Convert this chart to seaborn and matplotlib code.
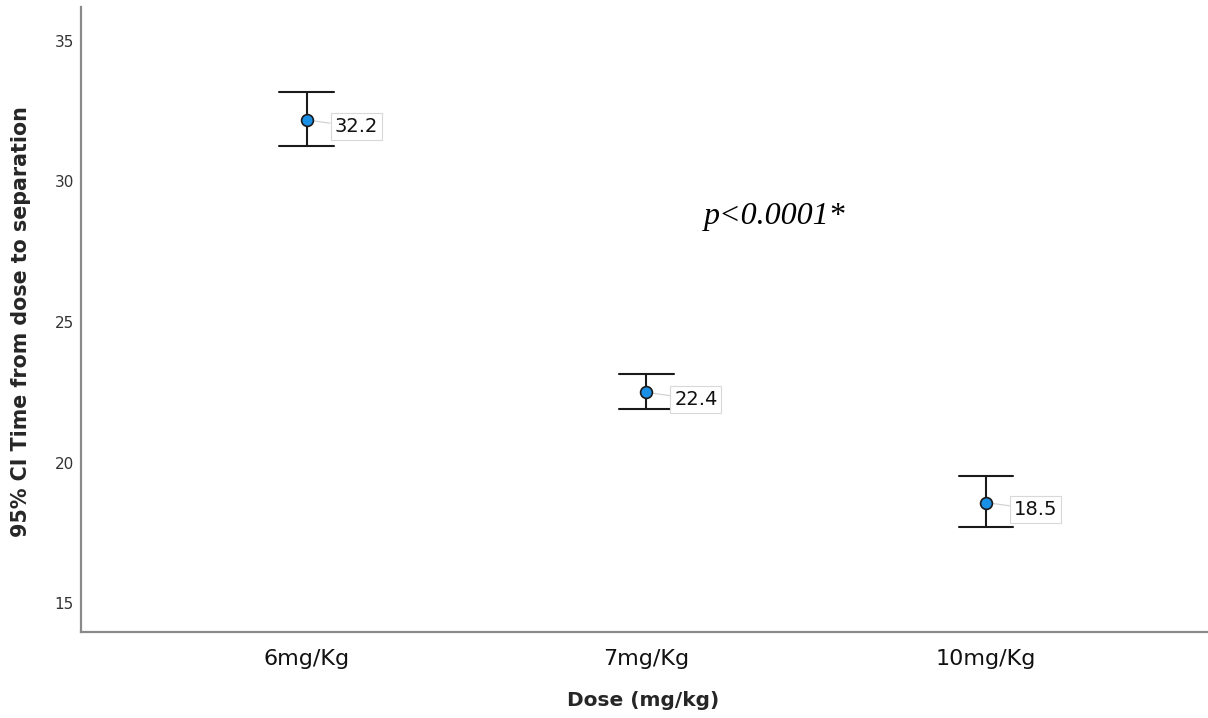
import pandas as pd
import matplotlib
matplotlib.use("Agg")
import matplotlib.pyplot as plt
import seaborn as sns

# ==========================================================
# Data
# ==========================================================

doses = ["6mg/Kg", "7mg/Kg", "10mg/Kg"]
means = [32.19, 22.5, 18.58]
ci_low = [31.27, 21.89, 17.72]
ci_high = [33.2, 23.14, 19.53]
point_labels = ["32.2", "22.4", "18.5"]
p_text = "p<0.0001*"

# long table: median of (low, mean, high) = mean, min-max = CI
rows = []
for d, lo, m, hi in zip(doses, ci_low, means, ci_high):
    for v in (lo, m, hi):
        rows.append({"Dose": d, "Time": v})
df = pd.DataFrame(rows)

# ==========================================================
# Plot
# ==========================================================

sns.set_style("white")
plt.rcParams["font.family"] = ["DejaVu Sans"]

fig = plt.figure(figsize=(12.08, 7.18), dpi=100)
ax = fig.add_axes([0.0668, 0.120, 0.9332, 0.870])

sns.pointplot(
    data=df,
    x="Dose",
    y="Time",
    order=doses,
    estimator="median",
    errorbar=("pi", 100),
    color="black",
    linestyle="none",
    marker="o",
    markersize=8.5,
    markerfacecolor="#1a8fe6",
    markeredgecolor="#1a1a1a",
    markeredgewidth=1.2,
    capsize=0.16,
    err_kws={"linewidth": 1.5, "color": "#1a1a1a"},
    ax=ax,
)

for line in ax.lines:
    if line.get_marker() == "o":
        line.set_zorder(5)

for i, (m, lab) in enumerate(zip(means, point_labels)):
    ax.annotate(
        lab,
        xy=(i, m),
        xytext=(20, -5),
        textcoords="offset points",
        ha="left",
        va="center",
        fontsize=14,
        color="#111111",
        bbox=dict(boxstyle="square,pad=0.2", fc="white", ec="#d8d8d8", lw=0.8),
        arrowprops=dict(arrowstyle="-", color="#cfcfcf", lw=0.8,
                        shrinkA=0, shrinkB=4),
        zorder=4,
    )

ax.text(1.17, 28.75, p_text, fontsize=23, style="italic",
        family=["Liberation Serif"], ha="left", va="center", color="black")

ax.set_xlim(-0.665, 2.653)
ax.set_ylim(13.98, 36.2)
ax.set_yticks([15, 20, 25, 30, 35])

ax.set_xlabel("Dose (mg/kg)", fontsize=14.5, fontweight="bold")
ax.set_ylabel("95% CI Time from dose to separation", fontsize=14.9,
              fontweight="bold")
ax.xaxis.set_label_coords(0.499, -0.094)
ax.yaxis.set_label_coords(-0.044, 0.497)

ax.tick_params(axis="y", length=0, pad=5, labelsize=11, labelcolor="#333333")
ax.tick_params(axis="x", length=0, pad=12, labelsize=16, labelcolor="#111111")

sns.despine(ax=ax)
for side in ["left", "bottom"]:
    ax.spines[side].set_color("#8a8a8a")
    ax.spines[side].set_linewidth(1.6)

fig.savefig("out.png", dpi=100)
